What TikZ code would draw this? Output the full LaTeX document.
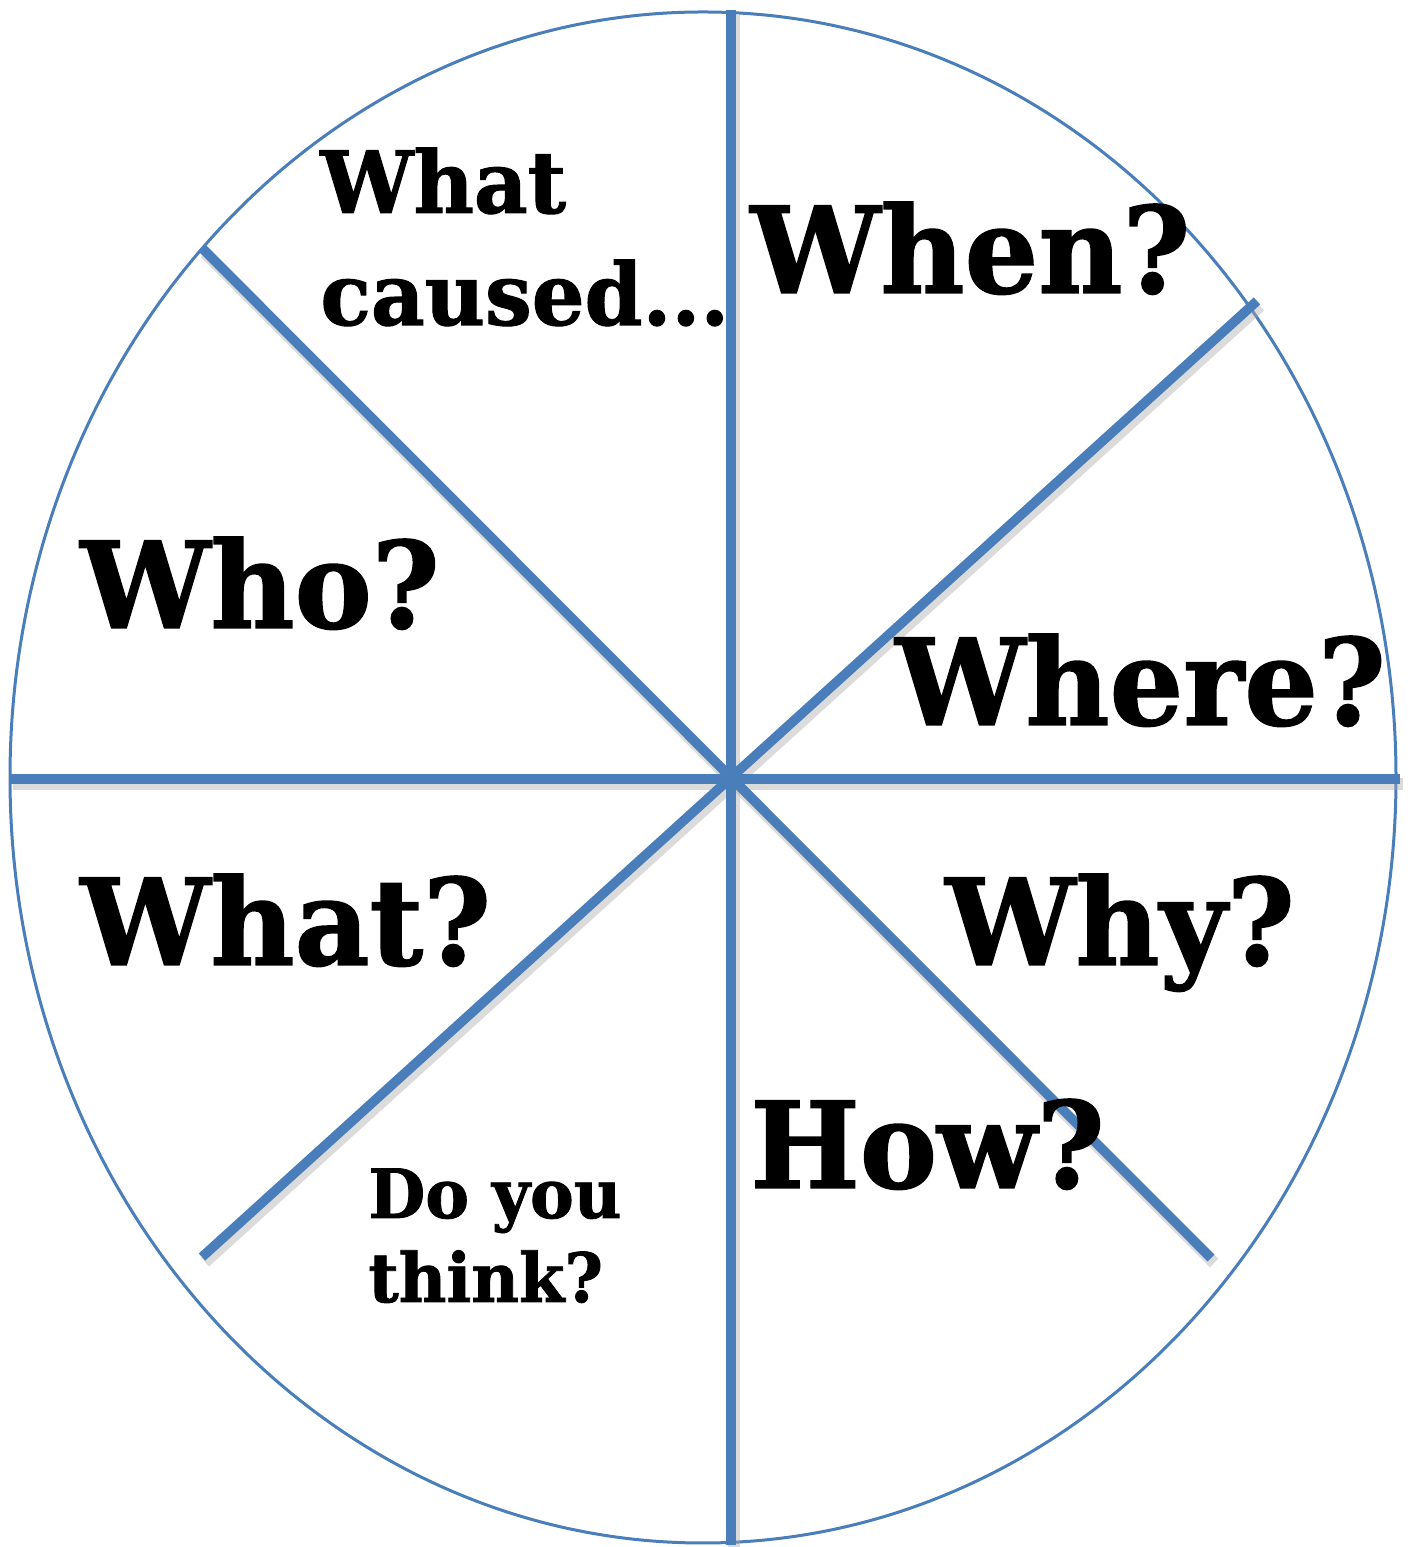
\documentclass[tikz,border=0pt]{standalone}
\usepackage{xcolor}
\usepackage{fontspec}
\newfontfamily\qfont{DejaVu Serif}[FakeStretch=0.965, FakeBold=1.2]
\definecolor{wheelblue}{RGB}{74,126,187}
\usepackage{tikz}

\begin{document}
\begin{tikzpicture}[x=0.5pt, y=0.5pt,
    spoke/.style={wheelblue, line width=4.8pt},
    spokeshade/.style={black!35, opacity=.4, line width=6pt,
      transform canvas={shift={(3,-5)}}},
    bigq/.style={anchor=base west, inner sep=0pt, font=\qfont\bfseries\fontsize{60}{60}\selectfont},
    midq/.style={anchor=base west, inner sep=0pt, font=\qfont\bfseries\fontsize{43}{43}\selectfont},
    smallq/.style={anchor=base west, inner sep=0pt, font=\qfont\bfseries\fontsize{34}{34}\selectfont}]

    \useasboundingbox (0,0) rectangle (1413,1547);

    % Rim
    \draw[wheelblue, line width=1.5pt] (703,769.5) ellipse [x radius=693, y radius=765.5];

    % Spoke ends
    \coordinate (hub) at (731,768);
    \coordinate (top) at (731,1537);
    \coordinate (bot) at (731,2);
    \coordinate (lft) at (10,768);
    \coordinate (rgt) at (1400,768);
    \coordinate (ul) at (202,1299);
    \coordinate (lr) at (1211,289);
    \coordinate (ur) at (1257,1246);
    \coordinate (ll) at (202,290);

    % Shadows, then spokes
    \foreach \a/\b in {top/bot, lft/rgt, ul/lr, ur/ll}
      \draw[spokeshade] (\a) -- (\b);
    \foreach \a/\b in {top/bot, lft/rgt, ul/lr, ur/ll}
      \draw[spoke] (\a) -- (\b);

    % Questions
    \node[midq] (what1) at (320,1334) {What};
    \node[midq] (caused) at (320,1222) {caused...};
    \node[bigq] (when) at (750,1254) {When?};
    \node[bigq] (who) at (80,919) {Who?};
    \node[bigq] (where) at (895,822) {Where?};
    \node[bigq] (what) at (80,582) {What?};
    \node[bigq] (why) at (945,582) {Why?};
    \node[bigq] (how) at (750,359) {How?};
    \node[smallq] (doyou) at (368,329) {Do you};
    \node[smallq] (think) at (368,245) {think?};

\end{tikzpicture}
\end{document}
